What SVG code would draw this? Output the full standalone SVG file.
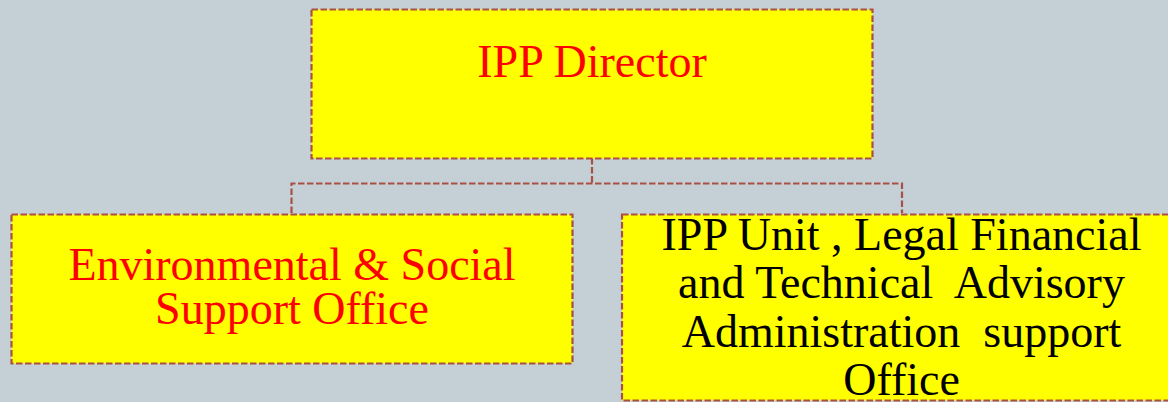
<svg xmlns="http://www.w3.org/2000/svg" width="1168" height="402" viewBox="0 0 1168 402">
<style>
.box{fill:#FFFF00;stroke:#A94F45;stroke-width:2.2;stroke-dasharray:6.5 2.5}
.conn{fill:none;stroke:#A94F45;stroke-width:2.2;stroke-dasharray:6.5 2.5}
.t{font-family:"Liberation Serif","Times New Roman",serif;font-size:46px;text-anchor:middle;white-space:pre}
.red{fill:#FF0000}
.blk{fill:#000000}
</style>
<rect x="0" y="0" width="1168" height="402" fill="#C5D0D6"/>
<g id="connectors">
<path class="conn" d="M592,158 V183.5 M291.5,213 V183.5 H902 V213"/>
</g>
<g id="director">
<rect class="box" x="311.5" y="9.5" width="561" height="149"/>
<text class="t red" x="592" y="77">IPP Director</text>
</g>
<g id="env-social">
<rect class="box" x="11.5" y="214.5" width="561" height="149"/>
<text class="t red" x="292" y="280">Environmental &amp; Social</text>
<text class="t red" x="292" y="324">Support Office</text>
</g>
<g id="ipp-unit">
<rect class="box" x="622" y="214.5" width="559" height="186"/>
<text class="t blk" x="901.5" y="250" xml:space="preserve">IPP Unit , Legal Financial</text>
<text class="t blk" x="901.5" y="298" xml:space="preserve">and Technical  Advisory</text>
<text class="t blk" x="901.5" y="347" xml:space="preserve">Administration  support</text>
<text class="t blk" x="901.5" y="395" xml:space="preserve">Office</text>
</g>
</svg>
